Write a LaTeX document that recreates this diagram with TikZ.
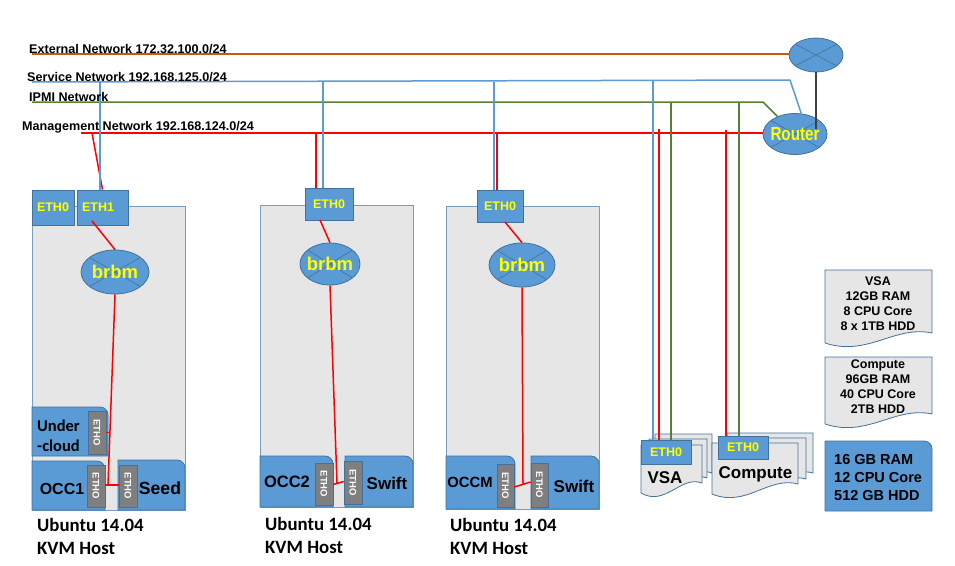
\documentclass[tikz,border=0pt]{standalone}
\usepackage{fontspec}
\usepackage{graphicx}
\setmainfont{Liberation Sans}
\newfontfamily\calib{Carlito}
\usetikzlibrary{shapes.geometric,calc}
\definecolor{bluefill}{HTML}{5B9BD5}
\definecolor{blueedge}{HTML}{41719C}
\definecolor{grayfill}{HTML}{E7E6E6}
\definecolor{ethgray}{HTML}{7F7F7F}
\definecolor{extline}{HTML}{C55A11}
\definecolor{ipmiline}{HTML}{548235}
\definecolor{txtyellow}{HTML}{FFFF00}
\newcommand{\ctext}[1]{\raisebox{-.36em}[0pt][0pt]{\makebox[0pt]{#1}}}
\tikzset{
  netlabel/.style={font=\bfseries\fontsize{12.6}{14}\selectfont,anchor=west,inner sep=0pt},
  redwire/.style={draw=red,line width=1.5pt},
  bluewire/.style={draw=bluefill,line width=1.5pt},
  greenwire/.style={draw=ipmiline,line width=1.5pt},
  extwire/.style={draw=extline,line width=1.5pt},
  blackwire/.style={draw=black!75,line width=1.5pt},
  hostbox/.style={draw=blueedge!70,fill=grayfill,line width=1pt,inner sep=0pt},
  ethbox/.style={draw=blueedge,fill=bluefill,line width=.8pt,inner sep=0pt,text=txtyellow,font=\bfseries\fontsize{12.5}{14}\selectfont},
  vethbox/.style={draw=blueedge,fill=ethgray,line width=.6pt,inner sep=0pt},
  vethtext/.style={text=white,font=\bfseries\fontsize{9.5}{10}\selectfont,rotate=-90,inner sep=0pt},
  bluepanel/.style={draw=blueedge,fill=bluefill,line width=.8pt},
  docpanel/.style={draw=blueedge,fill=grayfill,line width=.8pt},
  vmtext/.style={font=\bfseries\fontsize{16.5}{18}\selectfont,inner sep=0pt},
  hosttext/.style={font=\calib\bfseries\fontsize{18.8}{23}\selectfont,align=left,anchor=north west,inner sep=0pt},
  spectext/.style={font=\bfseries\fontsize{12.5}{15}\selectfont,align=center,inner sep=0pt},
  switchell/.style={ellipse,draw=blueedge,fill=bluefill,line width=.8pt,inner sep=0pt,text=txtyellow,font=\bfseries\fontsize{18.5}{20}\selectfont,
    path picture={\draw[blueedge,line width=.6pt]
      ($(path picture bounding box.north west)+(6pt,-6pt)$) -- ($(path picture bounding box.south east)+(-6pt,6pt)$)
      ($(path picture bounding box.south west)+(6pt,6pt)$) -- ($(path picture bounding box.north east)+(-6pt,-6pt)$);}},
}
% box by corners: style, name, x0, y0, x1, y1, text
\newcommand{\boxat}[7]{%
  \pgfmathsetmacro{\bw}{#5-#3}\pgfmathsetmacro{\bh}{#6-#4}%
  \pgfmathsetmacro{\bx}{(#3+#5)/2}\pgfmathsetmacro{\by}{(#4+#6)/2}%
  \node[#1,minimum width=\bw pt,minimum height=\bh pt] (#2) at (\bx,\by) {#7};}
% vertical grey ETH port
\newcommand{\vport}[5]{%
  \boxat{vethbox}{#1}{#2}{#3}{#4}{#5}{}%
  \node[vethtext] (#1t) at (#1.center) {ETHO};}
% panel with rounded top right corner
\newcommand{\roundpanel}[4]{%
  \path[bluepanel] (#1,#4) -- (#1,#2) [rounded corners=8pt] -- (#3,#2) [rounded corners=0pt] -- (#3,#4) -- cycle;}
% document shape
\newcommand{\wavedoc}[4]{%
  \pgfmathsetmacro{\cA}{#1+.65*(#3-#1)}\pgfmathsetmacro{\cB}{#1+.4*(#3-#1)}%
  \path[docpanel] (#1,#2) -- (#3,#2) -- (#3,#4) .. controls (\cA,#4-8) and (\cB,#4+24) .. (#1,#4+10) -- cycle;}
\begin{document}
\begin{tikzpicture}[x=1pt,y=-1pt]
\useasboundingbox (0,0) rectangle (955,565);
% bus ends
\coordinate (extL) at (32,54);
\coordinate (svcL) at (32,82);
\coordinate (svcB) at (790,80);
\coordinate (ipmiL) at (32,102);
\coordinate (ipmiB) at (763,102);
\coordinate (mgmtL) at (81,133);
\coordinate (svc1) at (100,82);
\coordinate (mgmt1) at (92,133);
\coordinate (svc2) at (323,82);
\coordinate (mgmt2) at (316,133);
\coordinate (svc3) at (494,82);
\coordinate (mgmt3) at (497,133);
\coordinate (svcV) at (653,81);
\coordinate (mgmtV) at (659,129);
\coordinate (ipmiV) at (671,102);
\coordinate (mgmtC) at (726,130);
\coordinate (ipmiC) at (739,102);
% hosts
\boxat{hostbox}{host1}{32}{206}{185}{510}{}
\boxat{hostbox}{host2}{260}{205}{413}{507}{}
\boxat{hostbox}{host3}{446}{206}{599}{509}{}
% top devices
\node[switchell,minimum width=54pt,minimum height=34pt] (gate) at (816,55) {};
\node[switchell,minimum width=64pt,minimum height=41pt] (router) at (795,134) {\ctext{\fontsize{19}{20}\selectfont\scalebox{.8}[1]{Router}}};
% network lines
\draw[extwire] (extL) -- (extL -| gate.west);
\draw[bluewire] (svcL) -- (svcB) -- (router.73);
\draw[greenwire] (ipmiL) -- (ipmiB) -- (router.135);
\draw[redwire] (mgmtL) -- (mgmtL -| router.west);
\draw[blackwire] (gate.south) -- (816,129);
% ETH boxes
\boxat{ethbox}{h1e0}{32}{190}{74}{225}{\raisebox{-1.5pt}{ETH0}}
\boxat{ethbox}{h1e1}{77}{190}{128}{225}{\hspace*{-9pt}\raisebox{-3pt}{ETH1}}
\boxat{ethbox}{h2e0}{305}{188}{353}{220}{\raisebox{-1.5pt}{ETH0}}
\boxat{ethbox}{h3e0}{477}{190}{523}{222}{\raisebox{-1pt}{ETH0}}
% uplinks
\draw[redwire] (mgmt1) -- (h1e1.north);
\draw[bluewire] (svc1) -- (svc1 |- h1e1.north);
\draw[redwire] (mgmt2) -- (mgmt2 |- h2e0.north);
\draw[bluewire] (svc2) -- (svc2 |- h2e0.north);
\draw[redwire] (mgmt3) -- (mgmt3 |- h3e0.north);
\draw[bluewire] (svc3) -- (svc3 |- h3e0.north);
% bridges
\node[switchell,minimum width=68pt,minimum height=44pt] (br1) at (115,272) {\ctext{brbm}};
\node[switchell,minimum width=60pt,minimum height=42pt] (br2) at (330,264) {\ctext{brbm}};
\node[switchell,minimum width=66pt,minimum height=44pt] (br3) at (522,265) {\ctext{brbm}};
\coordinate (e1a) at (92,221);
\coordinate (e2a) at (320,220);
\coordinate (e3a) at (505,222);
\draw[redwire] (e1a) -- (br1.north);
\draw[redwire] (e2a) -- (br2.north);
\draw[redwire] (e3a) -- (br3.north);
% host 1 VMs
\roundpanel{32}{407}{108}{456}
\node[font=\calib\bfseries\fontsize{16.5}{20}\selectfont,align=left,anchor=west,inner sep=0pt] (under) at (37,436) {Under\\-cloud};
\vport{p1u}{88}{411}{106}{454}
\roundpanel{32}{461}{105}{510}
\node[vmtext,font=\bfseries\fontsize{16}{18}\selectfont] (occ1) at (62,489) {OCC1};
\vport{p1o}{87}{465}{105}{507}
\roundpanel{118}{460}{185}{510}
\node[vmtext,font=\bfseries\fontsize{17.6}{18}\selectfont] (seed) at (160,488) {Seed};
\vport{p1s}{119}{465}{137}{507}
% host 2 VMs
\roundpanel{260}{456}{333}{507}
\node[vmtext] (occ2) at (287,482) {OCC2};
\vport{p2o}{315}{463}{333}{505}
\roundpanel{345}{456}{413}{507}
\node[vmtext,font=\bfseries\fontsize{17}{18}\selectfont] (swift2) at (387,483) {Swift};
\vport{p2s}{344}{461}{362}{504}
% host 3 VMs
\roundpanel{446}{456}{515}{509}
\node[vmtext,font=\bfseries\fontsize{14.8}{18}\selectfont] (occm) at (470,482) {OCCM};
\vport{p3o}{497}{464}{514}{507}
\roundpanel{531}{456}{599}{509}
\node[vmtext,font=\bfseries\fontsize{17}{18}\selectfont] (swift3) at (574,486) {Swift};
\vport{p3s}{531}{463}{548}{507}
% bridge to VM wiring
\coordinate (j1) at (108,485);
\coordinate (j2) at (337,483.5);
\coordinate (j3) at (523,484);
\draw[redwire] (br1.south) -- (j1);
\draw[redwire] (br2.south) -- (j2);
\draw[redwire] (br3.south) -- (j3);
\draw[redwire] (p1o.east |- j1) -- (p1s.west |- j1);
\draw[redwire] (p1u.east) -- ++(3,0);
\draw[redwire] (p2o.east |- 0,484.5) -- (p2s.west |- 0,481.5);
\draw[redwire] (p3o.east |- 0,487) -- (p3s.west |- 0,482);
% host captions
\node[hosttext] (cap1) at (37,518) {Ubuntu 14.04\\KVM Host};
\node[hosttext] (cap2) at (265,517) {Ubuntu 14.04\\KVM Host};
\node[hosttext] (cap3) at (450,518.5) {Ubuntu 14.04\\KVM Host};
% network labels
\node[netlabel] (lext) at (29,49) {External Network 172.32.100.0/24};
\node[netlabel] (lsvc) at (27,77.5) {Service Network 192.168.125.0/24};
\node[netlabel] (lipmi) at (29,96.5) {IPMI Network};
\node[netlabel] (lmgmt) at (22,127) {Management Network 192.168.124.0/24};
% VSA stack
\wavedoc{655}{434}{712}{473}
\wavedoc{649}{439}{707}{478}
\wavedoc{641}{445}{702}{483}
\boxat{ethbox}{vsae}{641}{440}{691}{464}{ETH0}
\node[vmtext,font=\bfseries\fontsize{17}{18}\selectfont] (vsa) at (665,478) {VSA};
% Compute stack
\wavedoc{727}{433}{813}{473}
\wavedoc{719}{438}{806}{479}
\wavedoc{712}{443}{798}{484}
\boxat{ethbox}{compe}{718}{436}{768}{459}{ETH0}
\node[vmtext,font=\bfseries\fontsize{17}{18}\selectfont] (comp) at (755.5,474) {Compute};
% server wiring
\draw[bluewire] (svcV) -- (svcV |- vsae.north);
\draw[redwire] (mgmtV) -- (mgmtV |- vsae.north);
\draw[greenwire] (ipmiV) -- (ipmiV |- vsae.north);
\draw[redwire] (mgmtC) -- (mgmtC |- compe.north);
\draw[greenwire] (ipmiC) -- (ipmiC |- compe.north);
% spec panels
\wavedoc{825}{270}{932}{333}
\node[spectext] (specv) at (878,303.5) {VSA\\12GB RAM\\8 CPU Core\\8 x 1TB HDD};
\wavedoc{825}{357}{932}{414}
\node[spectext] (specc) at (878,387) {Compute\\96GB RAM\\40 CPU Core\\2TB HDD};
\roundpanel{825}{441}{932}{511}
\node[font=\bfseries\fontsize{14.5}{18}\selectfont,align=left,anchor=west,inner sep=0pt] (specb) at (834,478) {16 GB RAM\\12 CPU Core\\512 GB HDD};
\end{tikzpicture}
\end{document}
